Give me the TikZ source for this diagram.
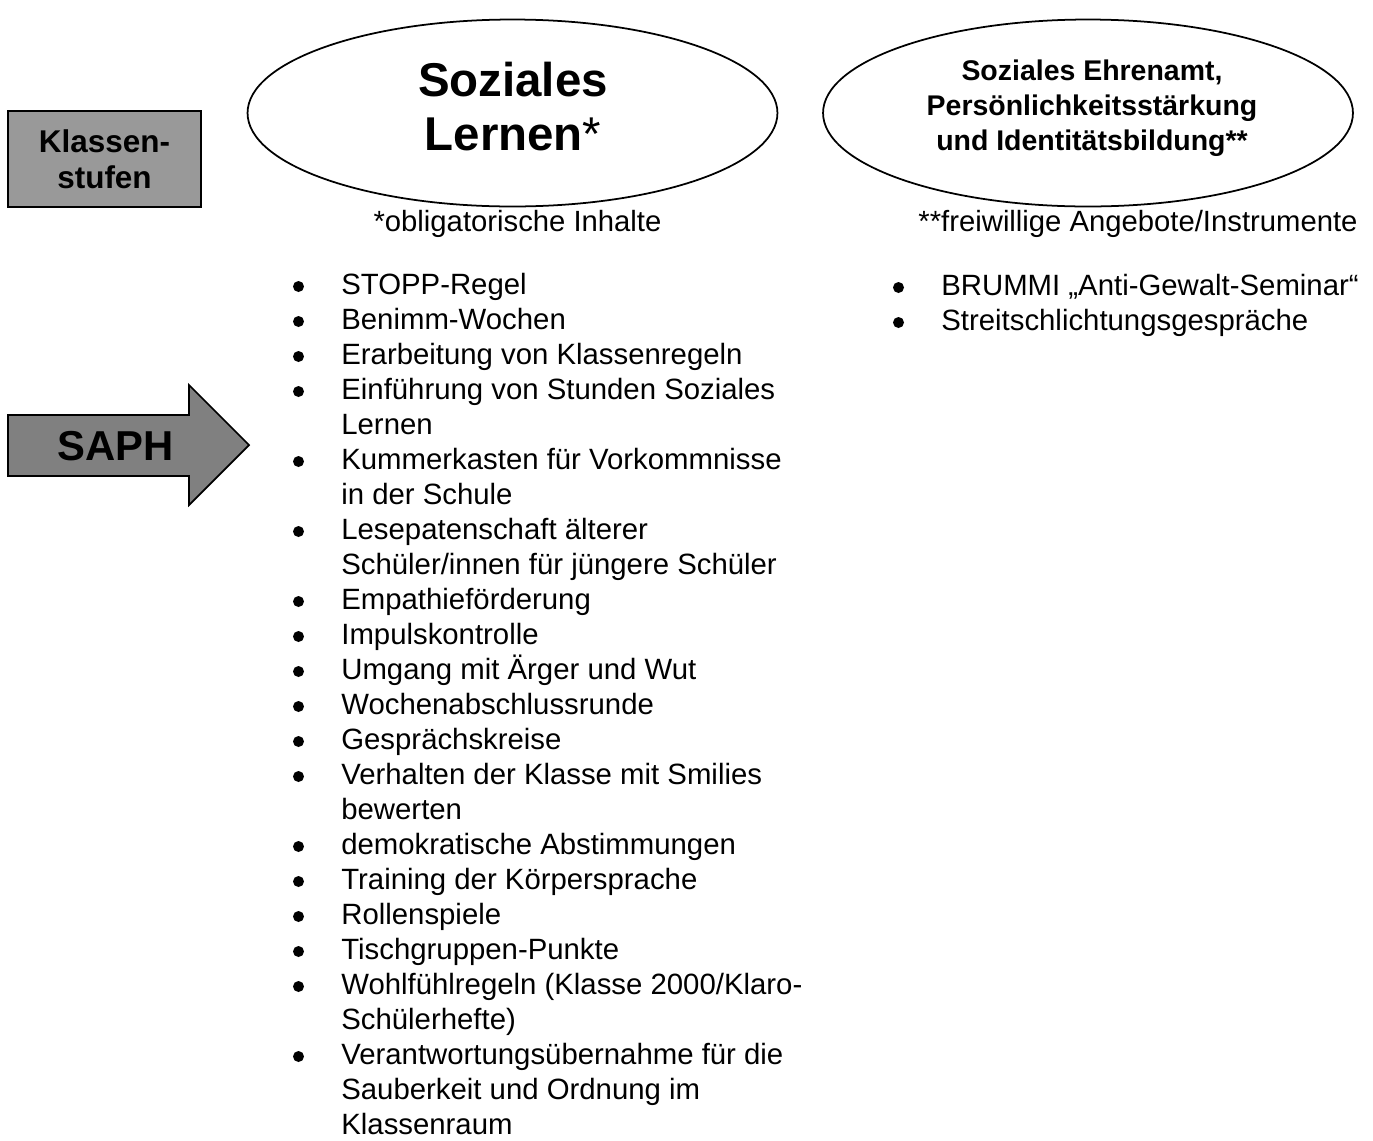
\documentclass[tikz,border=0pt]{standalone}
\usepackage{fontspec}
\setmainfont{Liberation Sans}
\usetikzlibrary{shapes}
\usetikzlibrary{positioning}
\definecolor{boxgray}{gray}{0.6}
\definecolor{arrowgray}{gray}{0.5}
\tikzset{
    oval/.style = {ellipse, line width=1pt, draw=black, minimum width=10.6cm, minimum height=3.74cm, inner sep=0pt},
    stufenbox/.style = {rectangle, line width=1.1pt, draw=black, fill=boxgray, minimum width=3.86cm, minimum height=1.92cm, align=center, font=\bfseries\fontsize{17.9}{20.5}\selectfont},
    pfeil/.style = {line width=1pt, draw=black, fill=arrowgray},
    bigtitle/.style = {align=center, inner sep=0pt, font=\bfseries\fontsize{27}{30.7}\selectfont},
    smalltitle/.style = {align=center, inner sep=0pt, font=\bfseries\fontsize{16.2}{19.9}\selectfont},
    saphtext/.style = {inner sep=0pt, font=\bfseries\fontsize{23.8}{28}\selectfont},
    note/.style = {anchor=base, inner sep=0pt, font=\fontsize{16.65}{19.9}\selectfont},
    listline/.style = {anchor=base west, inner sep=0pt, font=\fontsize{16.7}{19.9}\selectfont},
    listdot/.style = {circle, fill=black, inner sep=0pt, minimum size=0.22cm}
}

\begin{document}
\begin{tikzpicture}[x=0.02cm, y=-0.02cm]
\useasboundingbox (0,0) rectangle (1373,1140);

\node[oval] at (512.5, 113) (ov1) {};
\node[oval] at (1088, 113) (ov2) {};
\node[bigtitle] at (513, 107) (t1) {Soziales\\Lernen{\mdseries*}};
\node[smalltitle] at (1092, 108) (t2) {Soziales Ehrenamt,\\Persönlichkeitsstärkung\\und Identitätsbildung**};
\node[note] at (517.5, 231) (n1) {*obligatorische Inhalte};
\node[note] at (1138, 231) (n2) {**freiwillige Angebote/Instrumente};

\node[stufenbox] at (104.5, 159) (ks) {Klassen-\\stufen};
%
\draw[pfeil] (8,415) -- (189,415) -- (189,385) -- (249,445) -- (189,505) -- (189,476) -- (8,476) -- cycle;
\node[saphtext] at (116, 446) (saph) {SAPH};

% obligatorisch
\foreach \txt/\b [count=\i from 0] in {STOPP-Regel/1, Benimm-Wochen/1,
    Erarbeitung von Klassenregeln/1, Einführung von Stunden Soziales/1, Lernen/0,
    Kummerkasten für Vorkommnisse/1, in der Schule/0, Lesepatenschaft älterer/1,
    {Schüler/innen für jüngere Schüler}/0, Empathieförderung/1, Impulskontrolle/1,
    Umgang mit Ärger und Wut/1, Wochenabschlussrunde/1, Gesprächskreise/1,
    Verhalten der Klasse mit Smilies/1, bewerten/0, demokratische Abstimmungen/1,
    Training der Körpersprache/1, Rollenspiele/1, Tischgruppen-Punkte/1,
    {Wohlfühlregeln (Klasse 2000/Klaro-}/1, Schülerhefte)/0,
    Verantwortungsübernahme für die/1, Sauberkeit und Ordnung im/0, Klassenraum/0} {
  \node[listline] at (341, {294+35*\i}) (l\i) {\txt};
  \ifnum\b=1 \node[listdot] at (298.5, {286.5+35*\i}) (d\i) {}; \fi
}

% freiwillig
\node[listdot] at (898.5, 287.5) (rd0) {};
\node[listline] at (941, 295) (r0) {BRUMMI „Anti-Gewalt-Seminar“};
\node[listdot] at (898.5, 322.5) (rd1) {};
\node[listline] at (941, 330) (r1) {Streitschlichtungsgespräche};

\end{tikzpicture}
\end{document}
